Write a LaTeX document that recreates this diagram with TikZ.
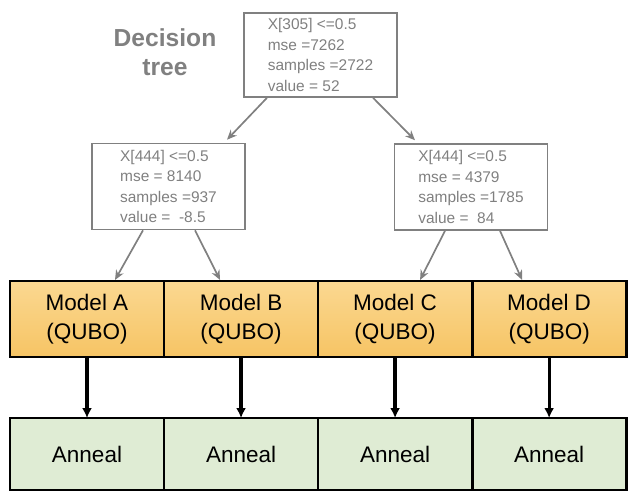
\documentclass[tikz,border=0pt]{standalone}
\usepackage{fontspec}
\setmainfont{Liberation Sans}
\usepackage{xcolor}
\usepackage{tikz}
\usetikzlibrary{positioning, arrows.meta, calc}

\definecolor{treegray}{RGB}{128,128,128}
\definecolor{qubotop}{RGB}{251,216,145}
\definecolor{qubobot}{RGB}{246,196,100}
\definecolor{annealgreen}{RGB}{223,236,212}

\begin{document}
\begin{tikzpicture}[
    x=0.025cm, y=-0.025cm,
    % Define styles for the nodes and paths
        treebox/.style={draw=treegray, line width=1.1pt, rectangle, align=left, text=treegray,
            font=\fontsize{11}{14.5}\selectfont, minimum width=3.825cm, minimum height=2.15cm},
        modelbox/.style={draw, line width=2pt, rectangle, align=center, outer sep=0pt,
            top color=qubotop, bottom color=qubobot,
            font=\fontsize{16}{21}\selectfont, minimum width=3.85cm, minimum height=1.9cm},
        annealbox/.style={draw, line width=2pt, rectangle, align=center, outer sep=0pt,
            fill=annealgreen, font=\fontsize{16}{21}\selectfont,
            minimum width=3.85cm, minimum height=1.8cm},
        titlenode/.style={align=center, text=treegray, font=\fontsize{17.5}{21}\selectfont\bfseries},
        treearrow/.style={-{Stealth[length=7pt,width=6pt]}, draw=treegray, fill=treegray, line width=1.2pt},
        arrow/.style={-{Latex[length=7pt,width=7pt]}, line width=2.3pt}
    ]
        \useasboundingbox (0,0) rectangle (629,492);
    
        % Define the nodes
        \node[titlenode] (title) at (165,52) {Decision\\tree};
        
        \node[treebox, minimum height=2.1cm] (root) at (320.5,55)
            {X[305] <=0.5\\mse =7262\\samples =2722\\value = 52};
        
        \node[treebox] (left) at (168.5,186.5)
            {X[444] <=0.5\\mse = 8140\\samples =937\\value = \ -8.5};
        
        \node[treebox] (right) at (471,187)
            {X[444] <=0.5\\mse = 4379\\samples =1785\\value = \ 84};
        
        \node[modelbox] (modelA) at (87,319) {Model A\\(QUBO)};
        \node[modelbox, right=0pt of modelA] (modelB) {Model B\\(QUBO)};
        \node[modelbox, right=0pt of modelB] (modelC) {Model C\\(QUBO)};
        \node[modelbox, right=0pt of modelC] (modelD) {Model D\\(QUBO)};
        
        \node[annealbox, below=1.525cm of modelA] (annealA) {Anneal};
        \node[annealbox, right=0pt of annealA] (annealB) {Anneal};
        \node[annealbox, right=0pt of annealB] (annealC) {Anneal};
        \node[annealbox, right=0pt of annealC] (annealD) {Anneal};
    
        % Draw the tree arrows
        \draw[treearrow] ($(root.south)+(-53.5,0)$) -- ($(left.north)+(58.5,-3)$);
        \draw[treearrow] ($(root.south)+(52.5,0)$) -- ($(right.north)+(-56,-3)$);
        
        \draw[treearrow] ($(left.south)+(-25.5,0)$) -- ($(modelA.north)+(28,-1)$);
        \draw[treearrow] ($(left.south)+(26.5,0)$) -- ($(modelB.north)+(-21,-1)$);
        \draw[treearrow] ($(right.south)+(-26,0)$) -- ($(modelC.north)+(25,-1)$);
        \draw[treearrow] ($(right.south)+(29,0)$) -- ($(modelD.north)+(-27,-1)$);
        
        % Draw the anneal arrows
        \draw[arrow] (modelA) -- (annealA);
        \draw[arrow] (modelB) -- (annealB);
        \draw[arrow] (modelC) -- (annealC);
        \draw[arrow] (modelD) -- (annealD);
    \end{tikzpicture}
\end{document}
